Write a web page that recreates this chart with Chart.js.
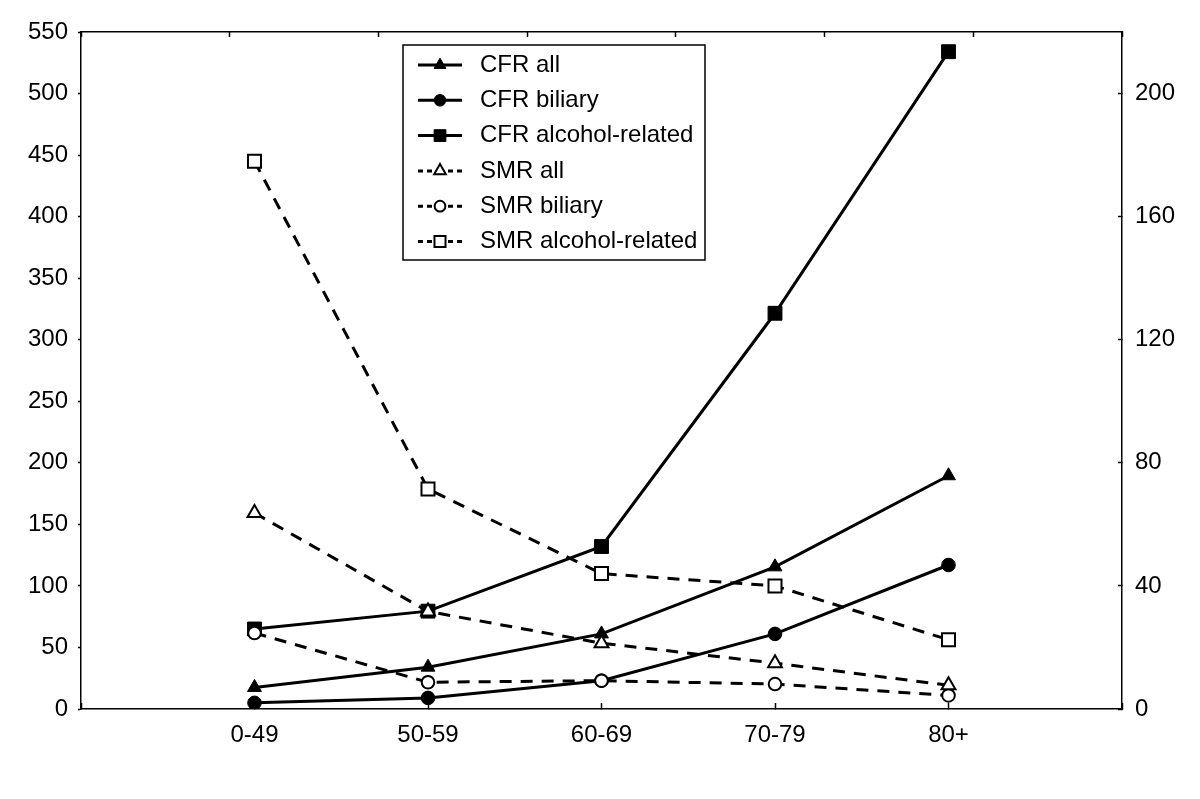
<!DOCTYPE html>
<html>
<head>
<meta charset="utf-8">
<script src="https://cdn.jsdelivr.net/npm/chart.js@4/dist/chart.umd.min.js"></script>
<style>
html,body{margin:0;padding:0;background:#fff;}
#wrap{width:1200px;height:799px;position:relative;}
</style>
</head>
<body>
<div id="wrap"><canvas id="c"></canvas></div>
<script>
// ---- data ----
const ageGroups = ['0-49', '50-59', '60-69', '70-79', '80+'];
const cfrAll = [17.5, 34, 61, 115.5, 189.5];
const cfrBiliary = [5, 9, 23, 61, 117];
const cfrAlcohol = [65, 79.5, 132, 321.5, 534];
const smrAll = [63.7, 31.7, 21.4, 14.9, 7.7];
const smrBiliary = [24.7, 8.7, 9.2, 8.1, 4.4];
const smrAlcohol = [178, 71.5, 44, 40, 22.5];
const leftTicks = [0, 50, 100, 150, 200, 250, 300, 350, 400, 450, 500, 550];
const rightTicks = [0, 40, 80, 120, 160, 200];

const FONT = '"Liberation Sans", Arial, Helvetica, sans-serif';
Chart.defaults.font.family = FONT;
Chart.defaults.font.size = 24;
Chart.defaults.color = '#000';

const labels = ['', ...ageGroups, ''];
const pad = a => [null, ...a, null];

function ds(label, data, axis, style, filled, radius) {
  return {
    label, data: pad(data), yAxisID: axis,
    borderColor: '#000', borderWidth: 3,
    borderDash: filled ? [] : [12, 9],
    pointStyle: style, pointRadius: radius,
    pointBackgroundColor: filled ? '#000' : '#fff',
    pointBorderColor: '#000', pointBorderWidth: filled ? 1 : 2,
    tension: 0, fill: false, order: filled ? 1 : 0
  };
}

const boxLegend = {
  id: 'boxLegend',
  afterDraw(chart, args, o) {
    const ctx = chart.ctx;
    ctx.save();
    ctx.lineWidth = 1.5; ctx.strokeStyle = '#000';
    ctx.setLineDash([]);
    ctx.strokeRect(o.x, o.y, o.w, o.h);
    ctx.font = '24px ' + FONT;
    ctx.textBaseline = 'middle'; ctx.textAlign = 'left'; ctx.fillStyle = '#000';
    chart.data.datasets.forEach((d, i) => {
      const cy = o.y + o.firstRow + i * o.rowH;
      const cx = o.symX + o.symW / 2;
      ctx.save();
      ctx.lineWidth = 3; ctx.strokeStyle = '#000';
      if (d.borderDash.length) {
        ctx.setLineDash([5, 4]);
        ctx.beginPath(); ctx.moveTo(o.symX, cy); ctx.lineTo(cx - 6, cy); ctx.stroke();
        ctx.beginPath(); ctx.moveTo(o.symX + o.symW, cy); ctx.lineTo(cx + 6, cy); ctx.stroke();
      } else {
        ctx.setLineDash([]);
        ctx.beginPath(); ctx.moveTo(o.symX, cy); ctx.lineTo(o.symX + o.symW, cy); ctx.stroke();
      }
      ctx.restore();
      ctx.save();
      ctx.setLineDash([]);
      ctx.fillStyle = d.pointBackgroundColor; ctx.strokeStyle = '#000'; ctx.lineWidth = d.pointBorderWidth;
      Chart.helpers.drawPoint(ctx, {pointStyle: d.pointStyle, radius: d.pointRadius * 0.85, borderWidth: d.pointBorderWidth, rotation: 0}, cx, cy);
      ctx.restore();
      ctx.fillText(d.label, o.textX, cy);
    });
    ctx.restore();
  }
};

new Chart(document.getElementById('c'), {
  type: 'line',
  data: {
    labels,
    datasets: [
      ds('CFR all', cfrAll, 'y', 'triangle', true, 8),
      ds('CFR biliary', cfrBiliary, 'y', 'circle', true, 6.8),
      ds('CFR alcohol-related', cfrAlcohol, 'y', 'rect', true, 9.8),
      ds('SMR all', smrAll, 'y1', 'triangle', false, 8),
      ds('SMR biliary', smrBiliary, 'y1', 'circle', false, 6.3),
      ds('SMR alcohol-related', smrAlcohol, 'y1', 'rect', false, 9.2)
    ]
  },
  options: {
    responsive: true, maintainAspectRatio: false, animation: false,
    devicePixelRatio: 1,
    layout: {padding: {top: 32, left: 0, right: 0, bottom: 0}},
    plugins: {
      legend: {display: false}, tooltip: {enabled: false},
      boxLegend: {x: 403, y: 45, w: 302, h: 215, firstRow: 20, rowH: 35.3, symX: 418, symW: 44, textX: 480}
    },
    scales: {
      x: {
        type: 'category', offset: false, position: 'bottom',
        grid: {display: true, drawOnChartArea: false, drawTicks: true, tickLength: -6, tickColor: '#000', tickWidth: 1.5},
        border: {display: true, color: '#000', width: 1.5},
        ticks: {padding: 18, color: '#000', maxRotation: 0, autoSkip: false, font: {size: 24}},
        afterFit(s) { s.height = 90; }
      },
      x2: {
        type: 'linear', position: 'top', min: 0, max: 7,
        ticks: {display: false, stepSize: 1},
        grid: {display: true, drawOnChartArea: false, drawTicks: true, tickLength: -5, tickColor: '#000', tickWidth: 1.5},
        border: {display: true, color: '#000', width: 1.5},
        afterFit(s) { s.height = 0; }
      },
      y: {
        type: 'linear', position: 'left', min: 0, max: 550,
        afterBuildTicks(s) { s.ticks = leftTicks.map(v => ({value: v})); },
        ticks: {padding: 10, color: '#000', font: {size: 24}},
        grid: {display: true, drawOnChartArea: false, drawTicks: true, tickLength: 3, tickColor: '#000', tickWidth: 1.5},
        border: {display: true, color: '#000', width: 1.5},
        afterFit(s) { s.width = 81; }
      },
      y1: {
        type: 'linear', position: 'right', min: 0, max: 220,
        afterBuildTicks(s) { s.ticks = rightTicks.map(v => ({value: v})); },
        ticks: {padding: 17, color: '#000', font: {size: 24}},
        grid: {display: true, drawOnChartArea: false, drawTicks: true, tickLength: -4, tickColor: '#000', tickWidth: 1.5},
        border: {display: true, color: '#000', width: 1.5},
        afterFit(s) { s.width = 78; }
      }
    }
  },
  plugins: [boxLegend]
});
</script>
</body>
</html>
